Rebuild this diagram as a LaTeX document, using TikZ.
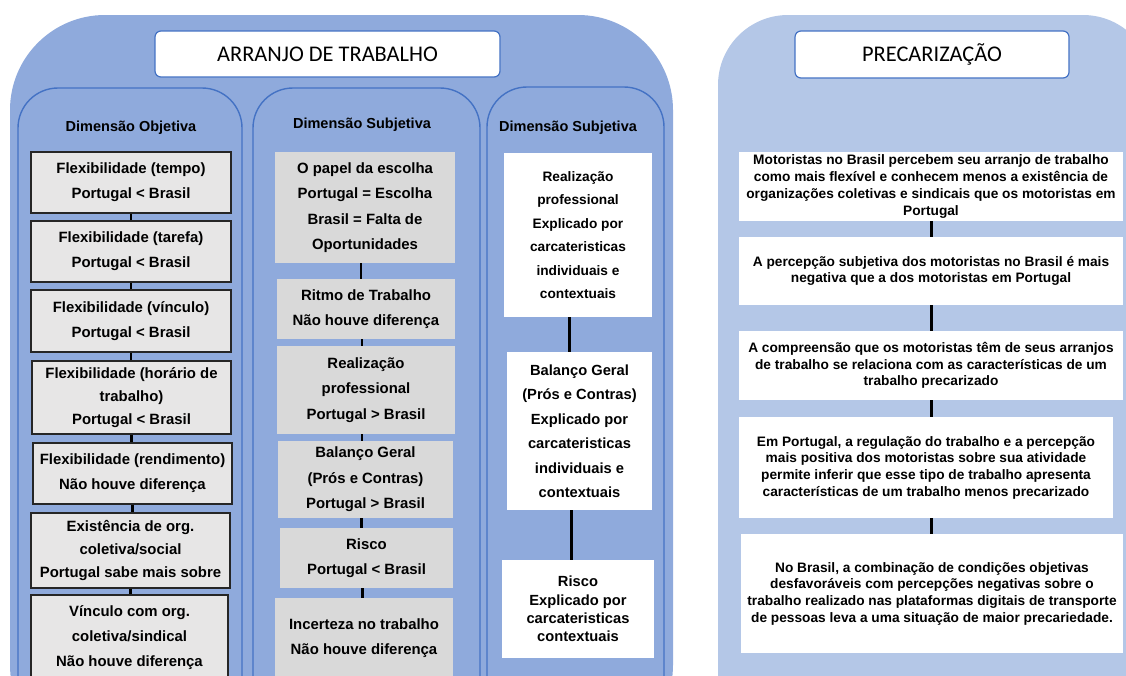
\documentclass[tikz,border=0pt]{standalone}
\usepackage{fontspec}
\setmainfont{Liberation Sans}
\newfontfamily\titlefont{Carlito}
\definecolor{panelblue}{HTML}{8FAADC}
\definecolor{panellight}{HTML}{B4C7E7}
\definecolor{edgeblue}{HTML}{4472C4}
\definecolor{boxgray}{HTML}{E7E6E6}
\definecolor{cellgray}{HTML}{D9D9D9}
\begin{document}
\begin{tikzpicture}[x=1pt,y=-1pt,
    titlebox/.style={draw=edgeblue, line width=1.2pt, fill=white, rounded corners=6pt,
        inner sep=0pt, font=\titlefont\fontsize{22.4}{26}\selectfont},
    heading/.style={font=\bfseries\fontsize{14.5}{17}\selectfont},
    objbox/.style={draw=black!85, line width=1.2pt, fill=boxgray, align=center, inner sep=0pt,
        font=\bfseries\fontsize{14.9}{25}\selectfont},
    subbox/.style={fill=cellgray, align=center, inner sep=0pt,
        font=\bfseries\fontsize{14.9}{25.5}\selectfont},
    expbox/.style={fill=white, align=center, inner sep=0pt,
        font=\bfseries\fontsize{14.7}{24.5}\selectfont},
    precbox/.style={fill=white, align=center, inner sep=0pt,
        font=\bfseries\fontsize{13.7}{16.7}\selectfont},
    link/.style={line width=2.5pt},
    colpanel/.style={draw=edgeblue, line width=1.4pt, fill=panelblue, rounded corners=40pt}]
        \useasboundingbox (0,0) rectangle (1126,675);
        \clip (0,0) rectangle (1126,675);
        % outer panels
        \fill[panelblue, rounded corners=95pt] (10,760) -- (10,15) -- (673,15) -- (673,760) -- cycle;
        \fill[panellight, rounded corners=70pt] (718,760) -- (718,15) -- (1153,15) -- (1153,760) -- cycle;
        \node[titlebox, minimum width=345pt, minimum height=46pt] (arranjo) at (327.5,54) {ARRANJO DE TRABALHO};
        \node[titlebox, minimum width=274pt, minimum height=47pt] (precar) at (932,54.5) {PRECARIZAÇÃO};
        % columns
        \path[colpanel] (18,760) -- (18,88) -- (242,88) -- (242,760) -- cycle;
        \path[colpanel] (253,760) -- (253,88) -- (480,88) -- (480,760) -- cycle;
        \path[colpanel] (487,760) -- (487,87) -- (664,87) -- (664,760) -- cycle;
        \node[heading] (objetiva) at (131,128) {Dimensão Objetiva};
        \node[heading] (subjetiva) at (362,125) {Dimensão Subjetiva};
        \node[heading] (subjexp) at (568,128) {Dimensão Subjetiva};
        % objective dimension
        \node[objbox, minimum width=200pt, minimum height=61pt] (flextempo) at (131,182.5)
            {Flexibilidade (tempo)\\Portugal < Brasil};
        \node[objbox, minimum width=200pt, minimum height=61pt] (flextarefa) at (131,251.5)
            {Flexibilidade (tarefa)\\Portugal < Brasil};
        \node[objbox, minimum width=200pt, minimum height=62pt] (flexvinculo) at (131,321)
            {Flexibilidade (vínculo)\\Portugal < Brasil};
        \node[objbox, minimum width=199pt, minimum height=73pt, font=\bfseries\fontsize{14.9}{23}\selectfont] (flexhorario) at (131.5,397.5)
            {Flexibilidade (horário de\\trabalho)\\Portugal < Brasil};
        \node[objbox, minimum width=199pt, minimum height=61pt] (flexrend) at (132.5,473.5)
            {Flexibilidade (rendimento)\\Não houve diferença};
        \node[objbox, minimum width=199pt, minimum height=75pt, font=\bfseries\fontsize{14.9}{23}\selectfont] (orgexist) at (130.5,550.5)
            {Existência de org.\\coletiva/social\\Portugal sabe mais sobre};
        \node[objbox, minimum width=197pt, minimum height=86pt] (orgvinculo) at (129.5,638)
            {Vínculo com org.\\coletiva/sindical\\Não houve diferença};
        \draw[link] (flextempo.south) -- (flextempo.south |- flextarefa.north);
        \draw[link] (flextarefa.south) -- (flextarefa.south |- flexvinculo.north);
        \draw[link] (flexvinculo.south) -- (flexvinculo.south |- flexhorario.north);
        \draw[link] (flexhorario.south) -- (flexhorario.south |- flexrend.north);
        \draw[link] (flexrend.south) -- (flexrend.south |- orgexist.north);
        \draw[link] (orgexist.south) -- (orgexist.south |- orgvinculo.north);
        % subjective dimension
        \node[subbox, minimum width=180pt, minimum height=111pt] (escolha) at (365,207.5)
            {O papel da escolha\\Portugal = Escolha\\Brasil = Falta de\\Oportunidades};
        \node[subbox, minimum width=178pt, minimum height=60pt] (ritmo) at (366,309)
            {Ritmo de Trabalho\\Não houve diferença};
        \node[subbox, minimum width=178pt, minimum height=88pt] (realiz) at (366,390)
            {Realização\\professional\\Portugal > Brasil};
        \node[subbox, minimum width=175pt, minimum height=77pt] (balanco) at (365.5,479.5)
            {Balanço Geral\\(Prós e Contras)\\Portugal > Brasil};
        \node[subbox, minimum width=173pt, minimum height=60pt] (risco) at (366.5,558)
            {Risco\\Portugal < Brasil};
        \node[subbox, minimum width=178pt, minimum height=80pt] (incerteza) at (364,638)
            {Incerteza no trabalho\\Não houve diferença};
        \draw[link] ([xshift=-4pt]escolha.south) -- ([xshift=-4pt]escolha.south |- ritmo.north);
        \draw[link] ([xshift=-4pt]ritmo.south) -- ([xshift=-4pt]ritmo.south |- realiz.north);
        \draw[link] ([xshift=-4pt]realiz.south) -- ([xshift=-4pt]realiz.south |- balanco.north);
        \draw[link] ([xshift=-4pt]balanco.south) -- ([xshift=-4pt]balanco.south |- risco.north);
        \draw[link] ([xshift=-4pt]risco.south) -- ([xshift=-4pt]risco.south |- incerteza.north);
        % explained subjective dimension
        \node[expbox, minimum width=148pt, minimum height=164pt, font=\bfseries\fontsize{13.7}{23.5}\selectfont] (realizexp) at (578,235)
            {Realização\\professional\\Explicado por\\carcateristicas\\individuais e\\contextuais};
        \node[expbox, minimum width=145pt, minimum height=158pt] (balancoexp) at (579.5,431)
            {Balanço Geral\\(Prós e Contras)\\Explicado por\\carcateristicas\\individuais e\\contextuais};
        \node[expbox, minimum width=152pt, minimum height=98pt, font=\bfseries\fontsize{14.7}{18.3}\selectfont] (riscoexp) at (578,609)
            {Risco\\Explicado por\\carcateristicas\\contextuais};
        \draw[line width=3pt] ([xshift=-9pt]realizexp.south) -- ([xshift=-9pt]realizexp.south |- balancoexp.north);
        \draw[line width=3pt] ([xshift=-8.5pt]balancoexp.south) -- ([xshift=-8.5pt]balancoexp.south |- riscoexp.north);
        % precarization
        \node[precbox, minimum width=384pt, minimum height=69pt] (percebem) at (931,186.5)
            {Motoristas no Brasil percebem seu arranjo de trabalho\\como mais flexível e conhecem menos a existência de\\organizações coletivas e sindicais que os motoristas em\\Portugal};
        \node[precbox, minimum width=384pt, minimum height=68pt] (negativa) at (931,271)
            {A percepção subjetiva dos motoristas no Brasil é mais\\negativa que a dos motoristas em Portugal};
        \node[precbox, minimum width=384pt, minimum height=69pt] (compreensao) at (931,365.5)
            {A compreensão que os motoristas têm de seus arranjos\\de trabalho se relaciona com as características de um\\trabalho precarizado};
        \node[precbox, minimum width=374pt, minimum height=101pt] (regulacao) at (926,467.5)
            {Em Portugal, a regulação do trabalho e a percepção\\mais positiva dos motoristas sobre sua atividade\\permite inferir que esse tipo de trabalho apresenta\\características de um trabalho menos precarizado};
        \node[precbox, minimum width=382pt, minimum height=119pt] (combinacao) at (932,593.5)
            {No Brasil, a combinação de condições objetivas\\desfavoráveis com percepções negativas sobre o\\trabalho realizado nas plataformas digitais de transporte\\de pessoas leva a uma situação de maior precariedade.};
        \draw[line width=3pt] (percebem.south) -- (percebem.south |- negativa.north);
        \draw[line width=3pt] (negativa.south) -- (negativa.south |- compreensao.north);
        \draw[line width=3pt] (compreensao.south) -- (compreensao.south |- regulacao.north);
        \draw[line width=3pt] (compreensao.south |- regulacao.south) -- (compreensao.south |- combinacao.north);
\end{tikzpicture}
\end{document}
